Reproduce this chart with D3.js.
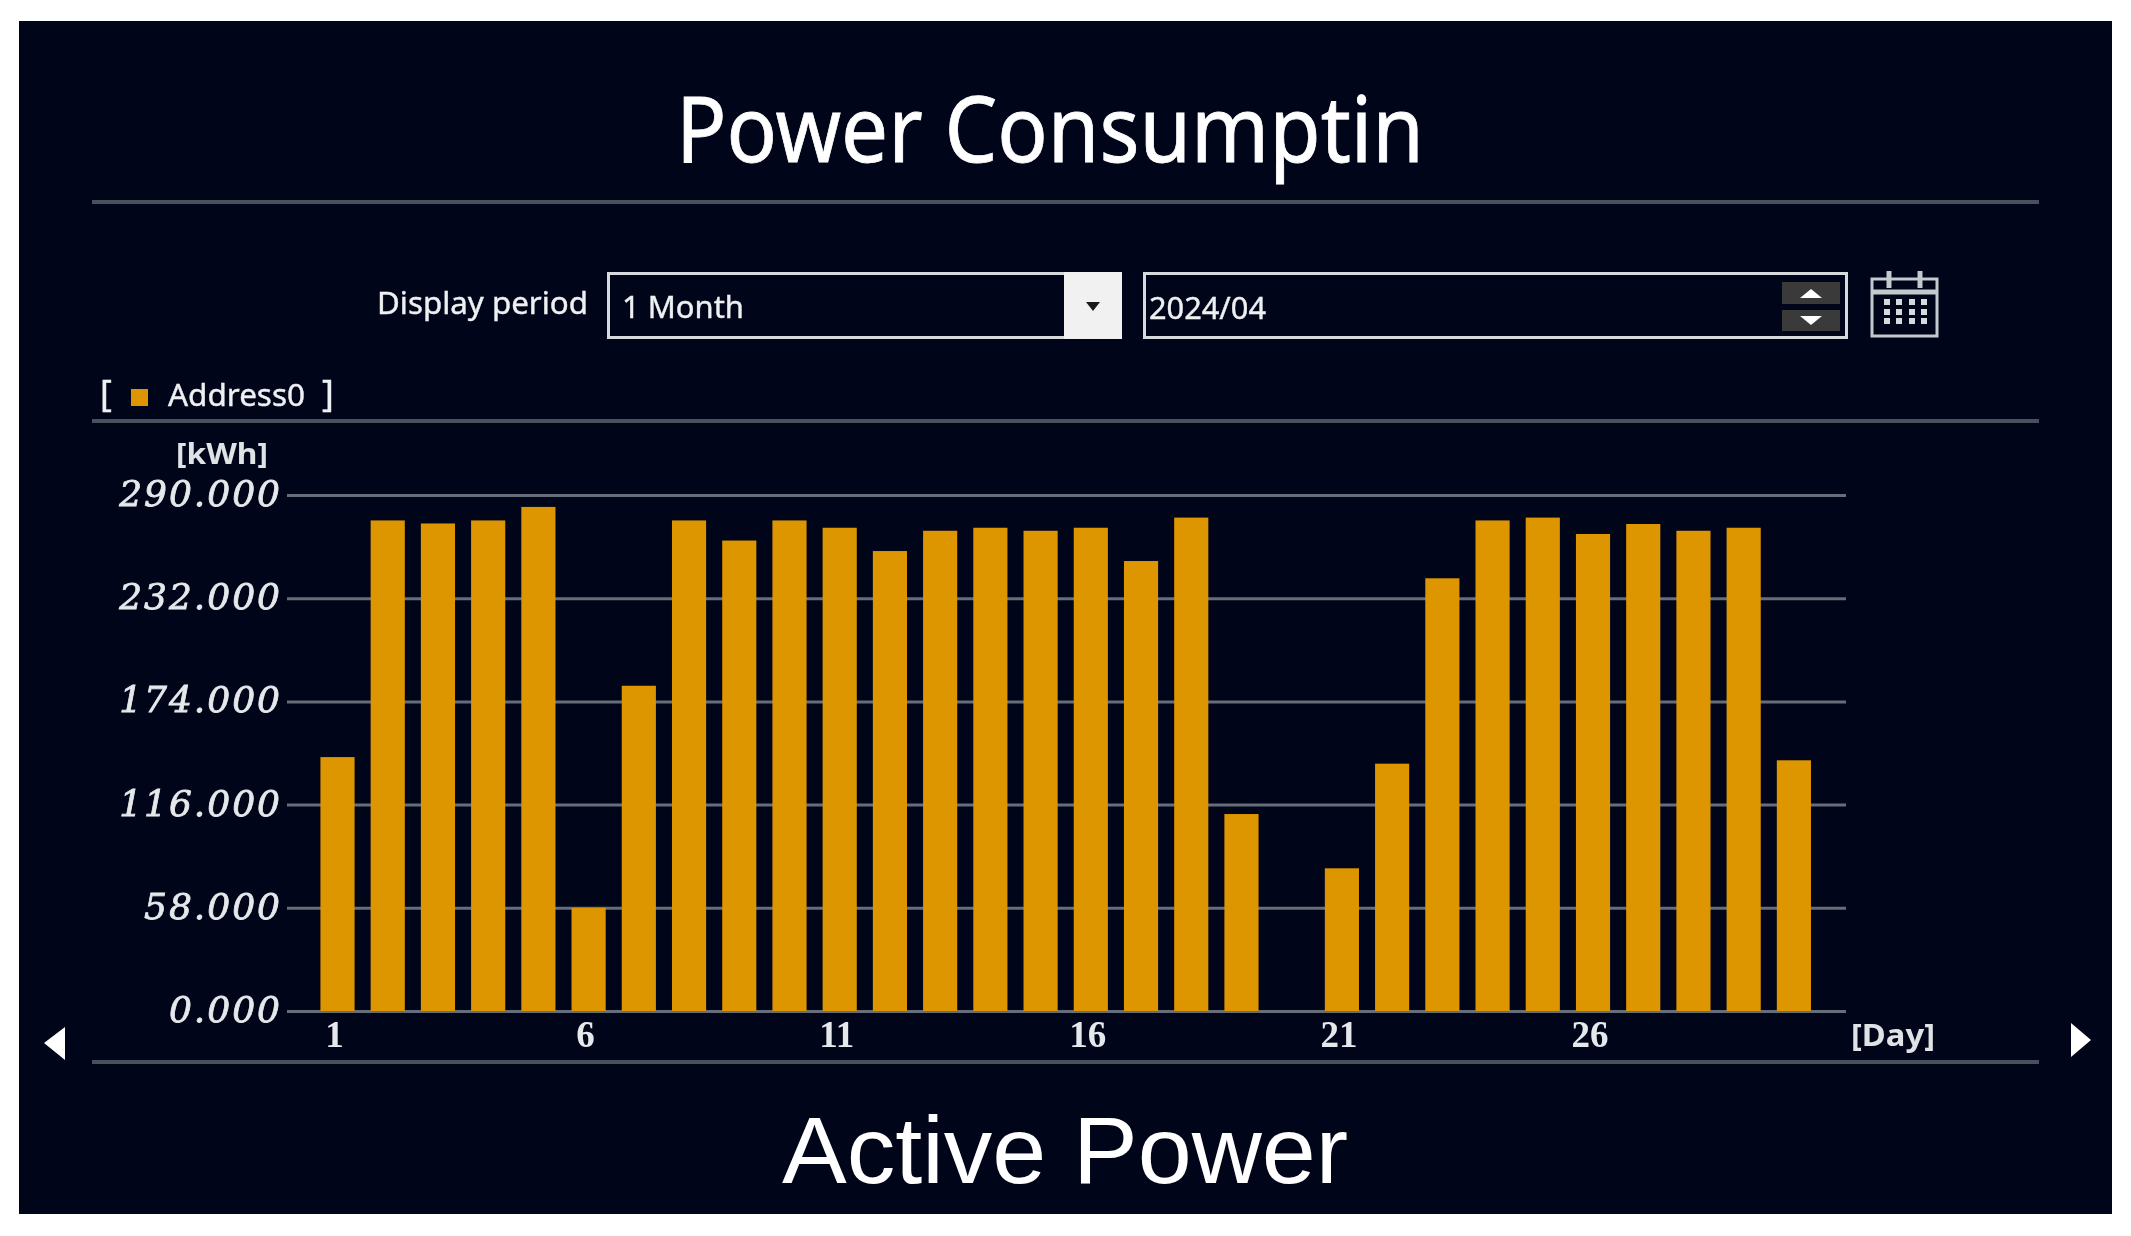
<!DOCTYPE html>
<html>
<head>
<meta charset="utf-8">
<title>Power Consumptin</title>
<script src="https://cdn.jsdelivr.net/npm/d3@7"></script>
<style>
html, body { margin: 0; padding: 0; background: #fff; }
svg { display: block; filter: blur(0.6px); } /* the source screenshot is soft */
.ui { font-family: "Noto Sans", sans-serif; fill: #eef0f2; stroke: #eef0f2; stroke-width: 0.4; }
.yAxis text { font-family: "DejaVu Serif", serif; font-style: italic; font-size: 36px; letter-spacing: 2px; fill: #e6e9ec; stroke: #e6e9ec; stroke-width: 0.8; }
.xAxis text { font-family: "Liberation Serif", serif; font-weight: bold; font-size: 37px; fill: #e6e9ec; }
.grid line { stroke: #666e79; stroke-width: 3; }
.grid path, .yAxis path, .xAxis path { display: none; }
.rule { stroke: #46525c; stroke-width: 4; }
</style>
</head>
<body>
<script>
//chart values
var days = d3.range(1, 31);
var energy = [142.7, 275.7, 274, 275.7, 283.3, 58, 182.8, 275.7, 264.4, 275.7,
  271.6, 258.5, 269.9, 271.6, 269.9, 271.6, 252.9, 277.3, 110.7, 0,
  80.2, 139, 243.2, 275.7, 277.3, 268.1, 273.7, 269.9, 271.6, 140.9];
var yTicks = [0, 58, 116, 174, 232, 290];
var xTicks = [1, 6, 11, 16, 21, 26];
var seriesName = "Address0";
var barColor = "#dd9500";

//frame dimensions
var width = 2131, height = 1236;
var plot = { left: 287, right: 1846, top: 495, bottom: 1011, barStart: 312.4, barEnd: 1819 };

var svg = d3.select("body").append("svg")
  .attr("width", width)
  .attr("height", height);

//dark panel
svg.append("rect")
  .attr("x", 19).attr("y", 21)
  .attr("width", 2093).attr("height", 1193)
  .attr("fill", "#00051a");

//scales
var xScale = d3.scaleBand()
  .domain(days)
  .range([plot.barStart, plot.barEnd])
  .paddingInner(0.32)
  .paddingOuter(0.16);

var yScale = d3.scaleLinear()
  .domain([0, 290])
  .range([plot.bottom, plot.top]);

//horizontal rules
[202, 421, 1062].forEach(function(y){
  svg.append("line").attr("class", "rule")
    .attr("x1", 92).attr("x2", 2039)
    .attr("y1", y).attr("y2", y);
});

//gridlines
svg.append("g")
  .attr("class", "grid")
  .attr("transform", "translate(" + plot.left + ",0)")
  .call(d3.axisLeft(yScale)
    .tickValues(yTicks)
    .tickSize(plot.left - plot.right)
    .tickFormat(""));

//bars
svg.selectAll(".bar")
  .data(days)
  .enter()
  .append("rect")
  .attr("class", "bar")
  .attr("x", function(d){ return xScale(d); })
  .attr("width", xScale.bandwidth())
  .attr("y", function(d, i){ return yScale(energy[i]); })
  .attr("height", function(d, i){ return yScale(0) - yScale(energy[i]); })
  .attr("fill", barColor);

//axes
svg.append("g")
  .attr("class", "yAxis")
  .attr("transform", "translate(" + plot.left + ",-1)")
  .call(d3.axisLeft(yScale)
    .tickValues(yTicks)
    .tickSize(0)
    .tickPadding(5)
    .tickFormat(d3.format(".3f")));

svg.append("g")
  .attr("class", "xAxis")
  .attr("transform", "translate(-3," + plot.bottom + ")")
  .call(d3.axisBottom(xScale)
    .tickValues(xTicks)
    .tickSize(0)
    .tickPadding(10));

//helper for all the plain labels
function label(str, x, y, size, fitWidth, family){
  var t = svg.append("text")
    .attr("class", "ui")
    .attr("x", x).attr("y", y)
    .attr("font-size", size)
    .text(str);
  if (family) t.style("font-family", family);
  if (fitWidth) t.attr("textLength", fitWidth).attr("lengthAdjust", "spacingAndGlyphs");
  return t;
}

label("Power Consumptin", 676, 162, 92, 748).style("fill", "#fff").style("stroke", "#fff").style("stroke-width", 0.8);
label("Active Power", 782, 1183, 94, 566, "'Liberation Sans', sans-serif").style("fill", "#fff").style("stroke", "none");
label("Display period", 377, 314, 30, 211);
label("[kWh]", 176, 464, 28, 92).style("font-weight", "bold").style("fill", "#dfe3e6").style("stroke", "none");
label("[Day]", 1851, 1046, 30, 84).style("font-weight", "bold").style("fill", "#dfe3e6").style("stroke", "none");

//legend
label("[", 100, 406, 36);
svg.append("rect").attr("x", 131).attr("y", 389).attr("width", 17).attr("height", 17).attr("fill", barColor);
label(seriesName, 168, 406, 31, 137);
label("]", 322, 406, 36);

//period dropdown
svg.append("rect").attr("x", 608.5).attr("y", 273.5).attr("width", 512).attr("height", 64)
  .attr("fill", "none").attr("stroke", "#d6dadd").attr("stroke-width", 3);
svg.append("rect").attr("x", 1064).attr("y", 272).attr("width", 58).attr("height", 67).attr("fill", "#f1f1f1");
svg.append("path").attr("d", "M1086,302 L1100,302 L1093,311 Z").attr("fill", "#1a1a1a");
label("1 Month", 622, 318, 31, 122);

//date box with spinner
svg.append("rect").attr("x", 1144.5).attr("y", 273.5).attr("width", 702).attr("height", 64)
  .attr("fill", "none").attr("stroke", "#d6dadd").attr("stroke-width", 3);
label("2024/04", 1149, 319, 31, 117);
svg.append("rect").attr("x", 1782).attr("y", 282).attr("width", 58).attr("height", 22).attr("fill", "#3a3a3a");
svg.append("rect").attr("x", 1782).attr("y", 310).attr("width", 58).attr("height", 21).attr("fill", "#3a3a3a");
svg.append("path").attr("d", "M1800,298 L1822,298 L1811,289 Z").attr("fill", "#fff");
svg.append("path").attr("d", "M1800,316 L1822,316 L1811,325 Z").attr("fill", "#fff");

//calendar icon
var cal = svg.append("g").attr("fill", "none").attr("stroke", "#c4c9cd");
cal.append("rect").attr("x", 1872).attr("y", 279).attr("width", 65).attr("height", 57).attr("stroke-width", 3);
cal.append("line").attr("x1", 1872).attr("x2", 1937).attr("y1", 292).attr("y2", 292).attr("stroke-width", 5);
[1889, 1920].forEach(function(x){
  cal.append("line").attr("x1", x).attr("x2", x).attr("y1", 271).attr("y2", 288).attr("stroke-width", 5);
});
[302, 312, 321].forEach(function(y){
  [1887, 1899, 1912, 1924].forEach(function(x){
    svg.append("rect").attr("x", x - 3).attr("y", y - 3).attr("width", 6).attr("height", 6).attr("fill", "#d6dadd");
  });
});

//page arrows
svg.append("path").attr("d", "M44,1043 L65,1027 L65,1060 Z").attr("fill", "#fff");
svg.append("path").attr("d", "M2091,1040 L2071,1023 L2071,1057 Z").attr("fill", "#fff");
</script>
</body>
</html>
